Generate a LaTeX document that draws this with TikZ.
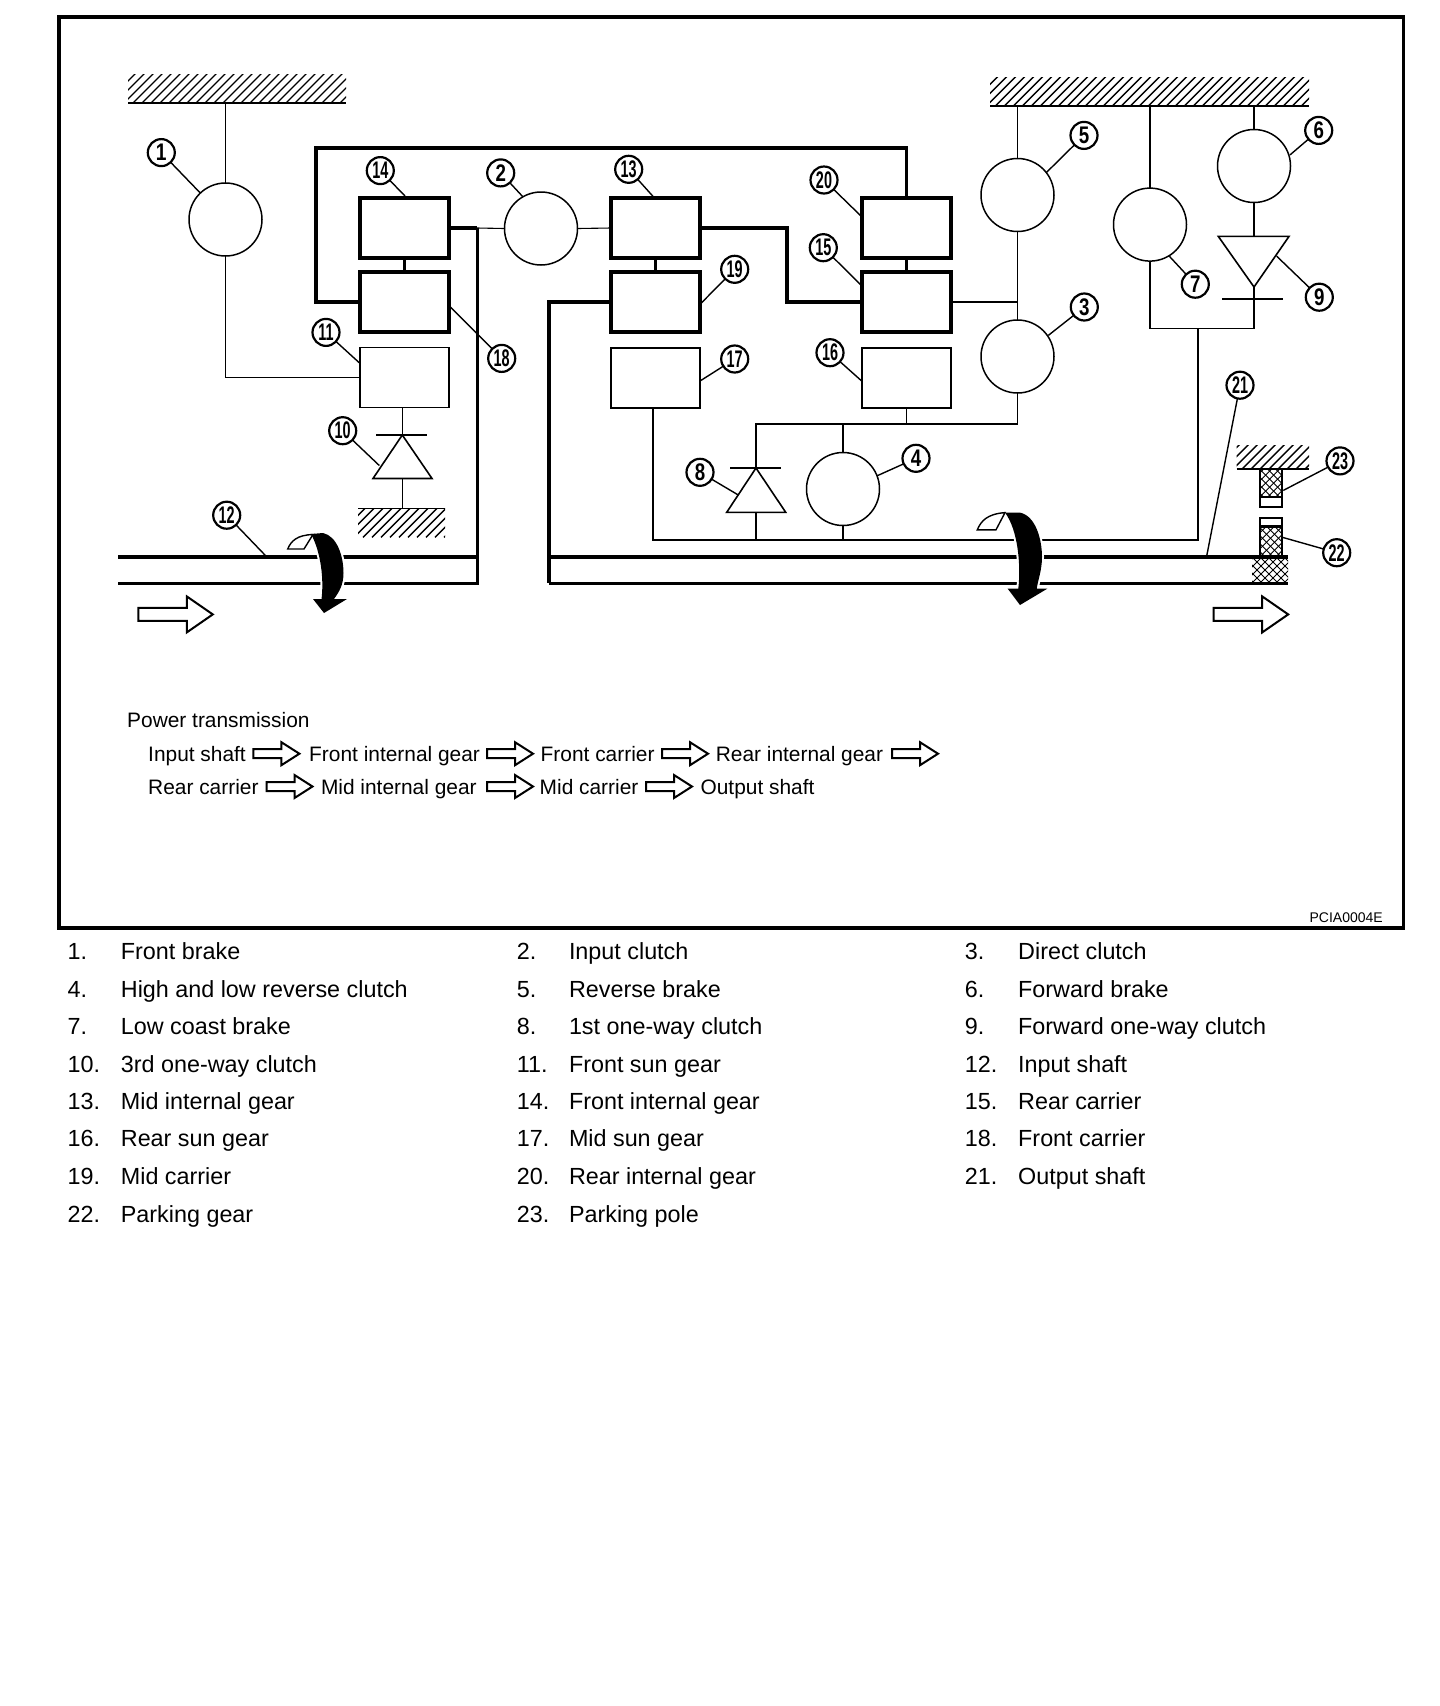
\documentclass[tikz,border=0pt]{standalone}
\usepackage{fontspec}
\usepackage{graphicx}
\setmainfont{Liberation Sans}
\newcommand{\hatchblock}[4]{% x1 y1 x2 y2
  \begin{scope}
    \clip (#1,#2) rectangle (#3,#4);
    \pgfmathsetmacro{\hstart}{#1-40}
    \pgfmathsetmacro{\hnext}{#1-40+9}
    \foreach \s in {\hstart,\hnext,...,#3}
      \draw[hatchline] (\s,#4) -- ++(40,-40);
  \end{scope}}
\newcommand{\crossblock}[4]{%
  \begin{scope}
    \clip (#1,#2) rectangle (#3,#4);
    \pgfmathsetmacro{\hstart}{#1-40}
    \pgfmathsetmacro{\hnext}{#1-40+8}
    \foreach \s in {\hstart,\hnext,...,#3}{
      \draw[crossline] (\s,#4) -- ++(40,-40);
      \draw[crossline] (\s,#2) -- ++(40,40);}
  \end{scope}}
\newcommand{\bigarrow}[2]{%
  \draw[hollow,shift={(#1,#2)}] (0,-6.5) -- (48.5,-6.5) -- (48.5,-18) -- (74.5,0) -- (48.5,18) -- (48.5,6.5) -- (0,6.5) -- cycle;}
\newcommand{\smallarrow}[2]{%
  \draw[hollow,shift={(#1,#2)}] (0,-4.5) -- (28,-4.5) -- (28,-11.5) -- (46,0) -- (28,11.5) -- (28,4.5) -- (0,4.5) -- cycle;}
\tikzset{
  gearc/.style={circle,draw,line width=1.5pt,minimum size=73pt,inner sep=0pt,outer sep=0pt},
  heavybox/.style={rectangle,draw,line width=4pt,minimum width=89pt,minimum height=60pt,inner sep=0pt,outer sep=0pt},
  lightbox/.style={rectangle,draw,line width=1.6pt,minimum width=89pt,minimum height=60pt,inner sep=0pt,outer sep=0pt},
  wire/.style={line width=1.7pt},
  finewire/.style={line width=1.1pt},
  heavywire/.style={line width=3.6pt},
  shaftline/.style={line width=3pt},
  hatchline/.style={line width=1.4pt},
  crossline/.style={line width=0.9pt},
  hollow/.style={draw,fill=white,line width=2pt,line join=miter},
  diode/.style={draw,fill=white,line width=1.6pt},
  lead/.style={line width=1.4pt},
  numlab/.style={circle,draw,line width=2.2pt,minimum size=27pt,inner sep=0pt,outer sep=0pt,fill=white,
    font=\fontsize{24}{24}\selectfont\bfseries},
  legtext/.style={anchor=base west,inner sep=0pt,font=\fontsize{23.35}{23.35}\selectfont},
  flowtext/.style={anchor=base west,inner sep=0pt,font=\fontsize{20.9}{20.9}\selectfont},
}
\begin{document}
\begin{tikzpicture}[x=1pt,y=-1pt]
\useasboundingbox (0,0) rectangle (1440,1706);
\fill[white] (0,0) rectangle (1440,1706);
\draw[line width=3.5pt] (59,17) rectangle (1403.5,928);

% ground hatches
\hatchblock{128}{74.5}{346}{103}
\draw[wire] (128,103) -- (346,103);
\hatchblock{990}{77}{1309}{106.3}
\draw[wire] (990,106.3) -- (1309,106.3);
\hatchblock{358}{508.3}{445}{537.4}
\draw[finewire] (358,508.3) -- (445,508.3);
\hatchblock{1236.7}{445.6}{1309}{469.3}
\draw[wire] (1236.7,469.3) -- (1309,469.3);

% coordinates
\coordinate (gA) at (225.5,103);
\coordinate (gC) at (1017.5,106.3);
\coordinate (gD) at (1150,106.3);
\coordinate (gE) at (1254,106.3);
\coordinate (gF) at (402.3,508.3);
\coordinate (loopL) at (316,148);
\coordinate (jA) at (477,228);
\coordinate (sAtl) at (118,557);
\coordinate (sAtr) at (477,557);
\coordinate (sAbl) at (118,583);
\coordinate (sAbr) at (477,583);
\coordinate (sBtl) at (549,557);
\coordinate (sBtr) at (1288,557);
\coordinate (sBbl) at (549,583);
\coordinate (sBbr) at (1288,583);
\coordinate (jB) at (786.7,228);
\coordinate (jC) at (1017.5,302);
\coordinate (jD) at (1017.5,424);
\coordinate (jE) at (756,424);
\coordinate (jF) at (906.5,424);
\coordinate (jG) at (843,424);
\coordinate (jH) at (653,540);
\coordinate (jI) at (756,540);
\coordinate (jJ) at (843,540);
\coordinate (jK) at (1197.7,540);
\coordinate (jL) at (1197.7,328.6);
\coordinate (jM) at (1150,328.6);
\coordinate (jN) at (1254,328.6);

% circles
\node[gearc] (c1) at (225.5,219.5) {};
\node[gearc] (c2) at (541,228.5) {};
\node[gearc] (c3) at (1017.5,356.5) {};
\node[gearc] (c4) at (843,489) {};
\node[gearc] (c5) at (1017.5,195) {};
\node[gearc] (c6) at (1254,166) {};
\node[gearc] (c7) at (1150,224.6) {};

% boxes
\node[heavybox] (b14) at (404.5,228) {};
\node[heavybox] (b18) at (404.5,302) {};
\node[lightbox] (b11) at (404.5,377.5) {};
\node[heavybox] (b13) at (655.5,228) {};
\node[heavybox] (b19) at (655.5,302) {};
\node[lightbox] (b17) at (655.5,378) {};
\node[heavybox] (b20) at (906.5,228) {};
\node[heavybox] (b15) at (906.5,302) {};
\node[lightbox] (b16) at (906.5,378) {};

% connectors
\draw[wire] (gA) -- (c1.north);
\draw[wire] (c1.south) |- (b11.west);
\draw[heavywire,line join=miter] (b18.west) -| (loopL) -| (b20.north);
\draw[heavywire] (b14.south) -- (b18.north);
\draw[heavywire] (b13.south) -- (b19.north);
\draw[heavywire] (b20.south) -- (b15.north);
\draw[heavywire] (b14.east) -- (jA);
\draw[finewire] (jA) -- (c2.west);
\draw[finewire] (c2.east) -- (b13.west);
\draw[shaftline,line join=miter] (jA) -- (sAbr) -- (sAbl);
\draw[heavywire] (sAtl) -- (sAtr);
\draw[heavywire,line join=miter] (b13.east) -- (jB) |- (b15.west);
\draw[heavywire,line join=miter] (b19.west) -| (sBbl);
\draw[shaftline,line cap=square] (sBbl) -- (sBbr);
\draw[heavywire] (sBtl) -- (sBtr);
\draw[finewire] (b15.east) -- (jC);
\draw[wire] (gC) -- (c5.north);
\draw[wire] (c5.south) -- (c3.north);
\draw[wire,line join=miter] (c3.south) |- (jE) -- (756,468);
\draw[wire] (b16.south) -- (jF);
\draw[wire] (jG) -- (c4.north);
\draw[wire] (c4.south) -- (jJ);
\draw[wire] (jH |- b17.south) -- (jH) -- (jK) -- (jL);
\draw[wire] (jM) -- (jN);
\draw[wire] (gD) -- (c7.north);
\draw[wire] (c7.south) -- (jM);
\draw[wire] (gE) -- (c6.north);
\draw[wire] (c6.south) -- (1254,236.4);
\draw[wire] (1254,287) -- (jN);
\draw[finewire] (b11.south -| gF) -- (402.3,435);
\draw[finewire] (402.3,478.5) -- (gF);
\draw[wire] (756,512.3) -- (jI);

% one-way clutches
\draw[diode] (402.3,435) -- (432,478.5) -- (373,478.5) -- cycle;
\draw[wire] (376,435) -- (427,435);
\draw[diode] (756,468) -- (785.7,512.3) -- (726.7,512.3) -- cycle;
\draw[wire] (730,468) -- (780.7,468);
\draw[diode] (1254,287) -- (1289,236.4) -- (1218.3,236.4) -- cycle;
\draw[wire] (1222,298.7) -- (1282.7,298.7);

% parking pole and gear
\crossblock{1259.7}{469.3}{1282.3}{497}
\draw[wire] (1259.7,469.3) rectangle (1282.3,506.8);
\draw[wire] (1259.7,497) -- (1282.3,497);
\crossblock{1259.7}{527.5}{1282.3}{557}
\draw[wire] (1259.7,518.3) rectangle (1282.3,557);
\draw[line width=2.6pt] (1259.7,526.5) -- (1282.3,526.5);
\crossblock{1252}{557}{1288}{583}

% hollow arrows
\bigarrow{138.3}{614.4}
\bigarrow{1213.7}{614.4}

% rotation arrows: white halo, flap, black band
\newcommand{\bandL}{(311,534) -- (323,533) .. controls (337,536) and (343.5,556) .. (343.5,573) .. controls (343.5,585) and (339,592) .. (334,599) -- (347,599) -- (324,613) -- (313,599) -- (321.5,599) .. controls (324,580) and (321,552) .. (311,534) -- cycle}
\newcommand{\bandR}{(1005,512.6) -- (1020,512.6) .. controls (1036,516) and (1042,540) .. (1042,557) .. controls (1042,570) and (1038,580) .. (1036.7,588.7) -- (1047.3,588.7) -- (1020,605) -- (1007.7,588.7) -- (1018.3,588.7) .. controls (1021,565) and (1018,530) .. (1005,512.6) -- cycle}
\draw[draw=white,line width=4pt] \bandL;
\draw[draw=white,line width=4pt] \bandR;
\draw[line width=1.4pt,fill=white] (287.7,549) .. controls (291,541) and (297,535) .. (313,534.5) -- (304,549) -- cycle;
\draw[line width=1.4pt,fill=white] (977.3,529.8) .. controls (981,521) and (987,514) .. (1005,512.6) -- (996,529.8) -- cycle;
\fill[black] \bandL;
\fill[black] \bandR;

% numbered labels
\foreach \id/\lx/\ly/\ex/\ey/\sc in {
 1/161.3/152.6/200/192.7/0.8,
 2/500.7/172.9/522.7/196.6/0.78,
 3/1084.3/307/1048.3/335.4/0.78,
 4/916/458.3/877.3/475.7/0.78,
 5/1084/135.4/1046/172.9/0.78,
 6/1318.7/130.4/1290/154.9/0.78,
 7/1195.3/284.2/1169.3/256.2/0.78,
 8/700/472.3/738.3/495/0.78,
 9/1319.3/297.2/1276.7/256.2/0.78,
 10/342.7/430.7/379.3/465.5/0.6,
 11/326/332.4/360/363.4/0.6,
 12/226.7/515.2/265.7/555.8/0.6,
 13/628.7/169.3/653.3/196.7/0.6,
 14/380.3/170.6/405/196/0.6,
 15/823.3/247.7/861.7/285.7/0.6,
 16/830/352.7/861.7/381/0.6,
 17/734.7/359/700/381/0.6,
 18/501.7/358.4/450/306.7/0.6,
 19/734.7/269.3/700/304.3/0.6,
 20/824/180/861.7/216.7/0.6,
 21/1240/385.2/1206.7/556/0.6,
 22/1336.7/552.7/1282.7/537.4/0.6,
 23/1340/460.9/1283.3/490.4/0.6}{
  \node[numlab] (n\id) at (\lx,\ly) {\scalebox{\sc}[1]{\id}};
  \coordinate (e\id) at (\ex,\ey);
  \draw[lead] (n\id) -- (e\id);
}

% power transmission text
\node[flowtext] (pt) at (127,727) {Power transmission};
\node[flowtext] (f1) at (148,761) {Input shaft};
\node[flowtext] (f2) at (309,761) {Front internal gear};
\node[flowtext] (f3) at (540.5,761) {Front carrier};
\node[flowtext] (f4) at (715.6,761) {Rear internal gear};
\node[flowtext] (f5) at (148,794.5) {Rear carrier};
\node[flowtext] (f6) at (320.8,794.5) {Mid internal gear};
\node[flowtext] (f7) at (539.5,794.5) {Mid carrier};
\node[flowtext] (f8) at (700.4,794.5) {Output shaft};
\smallarrow{253.4}{753.7}
\smallarrow{487}{753.7}
\smallarrow{662}{753.7}
\smallarrow{892}{753.7}
\smallarrow{266.5}{786.5}
\smallarrow{487}{786.5}
\smallarrow{646}{786.5}

\node[anchor=base east,inner sep=0pt,font=\fontsize{14}{14}\selectfont] (code) at (1383,922) {PCIA0004E};

% legend
\foreach \n/\tx/\nx/\nm/\yy in {
 1/67.5/120.7/Front brake/959,
 2/516.6/568.8/Input clutch/959,
 3/964.7/1018/Direct clutch/959,
 4/67.5/120.7/High and low reverse clutch/997,
 5/516.6/568.8/Reverse brake/997,
 6/964.7/1018/Forward brake/997,
 7/67.5/120.7/Low coast brake/1034.5,
 8/516.6/568.8/1st one-way clutch/1034.5,
 9/964.7/1018/Forward one-way clutch/1034.5,
 10/67.5/120.7/3rd one-way clutch/1072,
 11/516.6/568.8/Front sun gear/1072,
 12/964.7/1018/Input shaft/1072,
 13/67.5/120.7/Mid internal gear/1109,
 14/516.6/568.8/Front internal gear/1109,
 15/964.7/1018/Rear carrier/1109,
 16/67.5/120.7/Rear sun gear/1146.5,
 17/516.6/568.8/Mid sun gear/1146.5,
 18/964.7/1018/Front carrier/1146.5,
 19/67.5/120.7/Mid carrier/1184,
 20/516.6/568.8/Rear internal gear/1184,
 21/964.7/1018/Output shaft/1184,
 22/67.5/120.7/Parking gear/1222,
 23/516.6/568.8/Parking pole/1222}{
  \node[legtext] (ln\n) at (\tx,\yy) {\n.};
  \node[legtext] (lt\n) at (\nx,\yy) {\nm};
}
\end{tikzpicture}
\end{document}
